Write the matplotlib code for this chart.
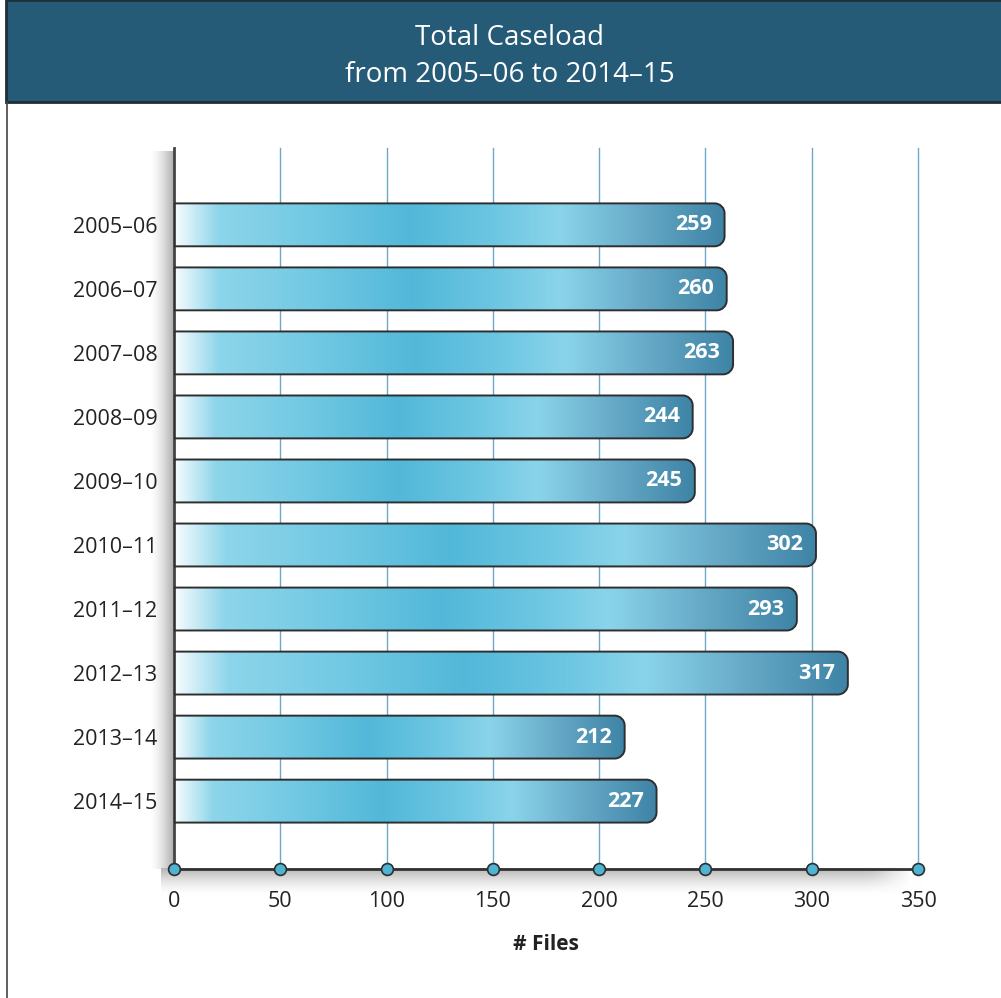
import numpy as np
import matplotlib
matplotlib.use("Agg")
import matplotlib.pyplot as plt
from matplotlib.colors import LinearSegmentedColormap
from matplotlib.path import Path
from matplotlib.patches import PathPatch, Rectangle

plt.rcParams['font.family'] = ['Open Sans', 'DejaVu Sans']

years = ['2005–06', '2006–07', '2007–08', '2008–09', '2009–10',
         '2010–11', '2011–12', '2012–13', '2013–14', '2014–15']
files = [259, 260, 263, 244, 245, 302, 293, 317, 212, 227]
xticks = [0, 50, 100, 150, 200, 250, 300, 350]

title_lines = ['Total Caseload', 'from 2005–06 to 2014–15']
xlabel = '# Files'

banner_col = '#265b78'
grid_col = '#6ea8c8'
edge_col = '#2e2e2e'

bar_cmap = LinearSegmentedColormap.from_list('bar', [
    (0.00, '#f6fcfe'),
    (0.08, '#8dd5ea'),
    (0.25, '#72c9e3'),
    (0.43, '#52b8d9'),
    (0.58, '#6cc6e2'),
    (0.70, '#8ad4ea'),
    (0.85, '#66a9c7'),
    (1.00, '#3e84a6'),
])

fig = plt.figure(figsize=(10.01, 9.98), dpi=100)
fig.patch.set_facecolor('white')

# header banner and left rule
fig.patches.append(Rectangle((6 / 1001, 1 - 102 / 998), 1, 102 / 998,
                             transform=fig.transFigure, facecolor=banner_col,
                             edgecolor='#1e2f38', linewidth=2))
fig.lines.append(plt.Line2D([7 / 1001, 7 / 1001], [0, 1 - 102 / 998],
                            transform=fig.transFigure, color='#444444', lw=1.2))
for line, base in zip(title_lines, [45, 82]):
    fig.text(0.5094, 1 - base / 998, line, ha='center', va='baseline',
             color='white', fontsize=20)

ax = fig.add_axes([174 / 1001, 1 - 869 / 998, 744 / 1001, 721 / 998])
ax.set_xlim(0, 350)
ax.set_ylim(10.06, -1.2)
ax.set_facecolor('none')
for s in ['top', 'right']:
    ax.spines[s].set_visible(False)
ax.spines['left'].set_color('#444444')
ax.spines['left'].set_linewidth(2)
ax.spines['bottom'].set_color('#333333')
ax.spines['bottom'].set_linewidth(2)

# soft shadows along the axes
shade = np.linspace(0, 1, 64)
ax.imshow(np.tile(shade ** 1.5, (2, 1)), extent=[-11.5, 0, 10.06, -1.15], aspect='auto',
          cmap=LinearSegmentedColormap.from_list('ls', ['#ffffff', '#a8a8a8']),
          vmin=0, vmax=1, clip_on=False, zorder=0.5, interpolation='bilinear')
fade = np.clip((350 - np.linspace(-6, 355, 64)) / 20, 0, 1)
ax.imshow(np.tile(shade[::-1] ** 1.5, (64, 1)).T * fade[None, :],
          extent=[-6, 355, 10.47, 10.06], aspect='auto',
          cmap=LinearSegmentedColormap.from_list('bs', ['#ffffff', '#b4b4b4']),
          vmin=0, vmax=1, clip_on=False, zorder=0.5, interpolation='bilinear')

for x in xticks[1:]:
    ax.plot([x, x], [10.06, -1.2], color=grid_col, lw=1, zorder=1, clip_on=False)

bar_h = 0.67
rx = 10 / (744 / 350)
ry = 10 / (721 / 11.26)
k = 0.5523
grad = np.linspace(0, 1, 256)[None, :]

for i, v in enumerate(files):
    y0, y1 = i - bar_h / 2, i + bar_h / 2
    verts = [(0, y0), (v - rx, y0),
             (v - rx + k * rx, y0), (v, y0 + ry - k * ry), (v, y0 + ry),
             (v, y1 - ry),
             (v, y1 - ry + k * ry), (v - rx + k * rx, y1), (v - rx, y1),
             (0, y1), (0, y0)]
    codes = [Path.MOVETO, Path.LINETO,
             Path.CURVE4, Path.CURVE4, Path.CURVE4,
             Path.LINETO,
             Path.CURVE4, Path.CURVE4, Path.CURVE4,
             Path.LINETO, Path.CLOSEPOLY]
    shape = PathPatch(Path(verts, codes), facecolor='none', edgecolor=edge_col,
                      lw=1.4, zorder=3)
    ax.add_patch(shape)
    im = ax.imshow(grad, extent=[0, v, y1, y0], aspect='auto', cmap=bar_cmap,
                   zorder=2, interpolation='bilinear')
    im.set_clip_path(shape)
    ax.text(v - 6, i, str(v), ha='right', va='center', color='white',
            fontsize=15.5, fontweight='bold', zorder=4)

ax.plot(xticks, [10.06] * len(xticks), 'o', ms=8.5, mfc='#4fb3d4',
        mec='#2e2e2e', mew=1.2, clip_on=False, zorder=5)

ax.set_xticks(xticks)
ax.set_xticklabels([str(t) for t in xticks], fontsize=15.5, color='#222222')
ax.set_yticks(range(len(years)))
ax.set_yticklabels(years, fontsize=15.5, color='#222222')
ax.tick_params(axis='x', length=0, pad=16)
ax.tick_params(axis='y', length=0, pad=12)
ax.set_xlabel(xlabel, fontsize=15, fontweight='bold', color='#222222', labelpad=16)

fig.savefig('out.png', dpi=100, facecolor='white')
